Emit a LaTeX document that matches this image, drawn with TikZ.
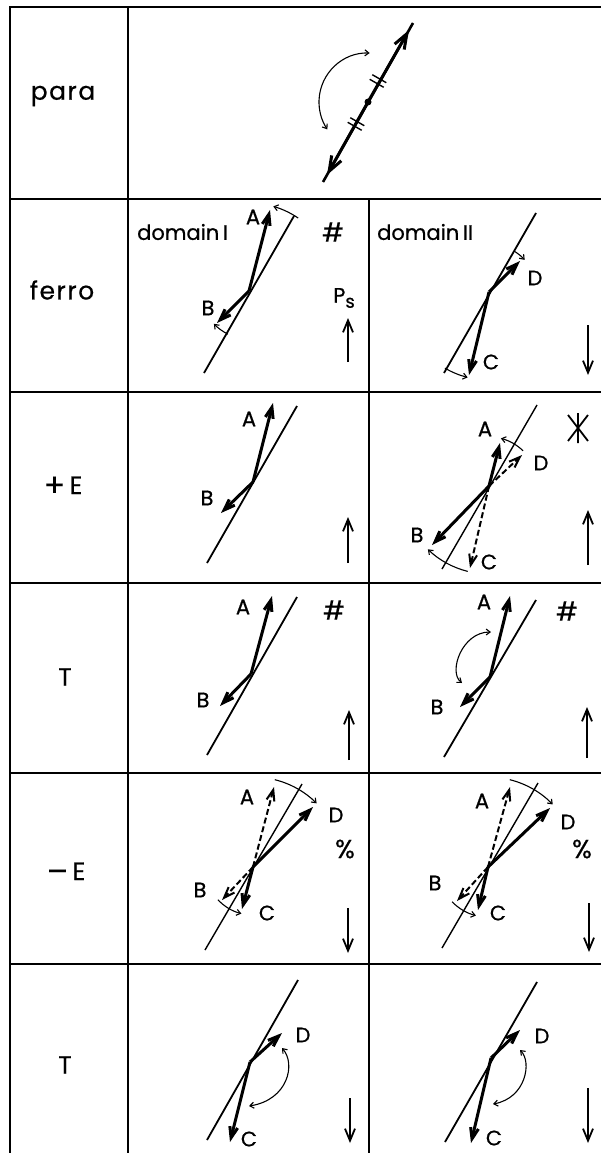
\documentclass[tikz,border=0pt]{standalone}
\usepackage{fontspec}
\setmainfont{Poppins}[FakeBold=0.6]
\usetikzlibrary{arrows.meta,calc}

\newcommand{\rowfont}{\fontsize{25}{28}\selectfont\addfontfeature{LetterSpace=6}}
\newcommand{\labfont}{\fontsize{21}{24}\selectfont}
\newcommand{\symfont}{\fontsize{26}{28}\selectfont}
\newcommand{\bigsign}[1]{\raisebox{-2.5pt}{\fontsize{32}{32}\selectfont\addfontfeature{FakeBold=0.2}#1}}

\begin{document}
\begin{tikzpicture}[x=1pt,y=-1pt,
  grid/.style={line width=1.6pt},
  axis/.style={line width=1.8pt},
  vec/.style={line width=3pt,-{Straight Barb[length=11pt,width=8pt]}},
  dvec/.style={line width=2pt,dash pattern=on 6pt off 3pt,-{Straight Barb[length=11pt,width=8pt]}},
  turn/.style={line width=1.1pt,-{Straight Barb[length=4pt,width=6pt]}},
  turns/.style={line width=1.1pt,{Straight Barb[length=4pt,width=6pt]}-{Straight Barb[length=4pt,width=6pt]}},
  field/.style={line width=1.8pt,-{Straight Barb[length=12pt,width=10pt]}},
  row/.style={font=\rowfont},
  lab/.style={font=\labfont,inner sep=0pt},
  sym/.style={font=\symfont,inner sep=0pt}]
\useasboundingbox (0,0) rectangle (601,1153);

% table
\draw[grid] (10,1153) -- (10,7) -- (601,7);
\draw[grid] (128,7) -- (128,1153);
\draw[grid] (369,199) -- (369,1153);
\foreach \y in {199,392,583,773,964} \draw[grid] (10,\y) -- (601,\y);

\node[row] (lpara) at (63,96) {para};
\node[row] (lferro) at (62,290) {ferro};
\node[row,anchor=base] (lpe) at (63,494) {\bigsign{+}\,E};
\node[row] (lt1) at (65,677) {T};
\node[row,anchor=base] (lme) at (66,880) {\bigsign{–}\,E};
\node[row] (lt2) at (65,1065) {T};

% para
\coordinate (o) at (368,102);
\coordinate (o1) at (323,182); \coordinate (o2) at (413,23);
\coordinate (oa) at (409,30); \coordinate (ob) at (327,175);
\draw[axis,line width=2.6pt] (o1) -- (o2);
\draw[vec,-{Straight Barb[length=15pt,width=11pt]}] (o) -- (oa);
\draw[vec,-{Straight Barb[length=15pt,width=11pt]}] (o) -- (ob);
\fill (o) circle (3.5);
\coordinate (t1) at (378,81); \coordinate (t2) at (356,124);
\foreach \t in {t1,t2} \foreach \s in {-1,1}
  \draw[line width=1.4pt] ($(\t)+(\s*1.3,-\s*2.3)+(-7,-4)$) -- ($(\t)+(\s*1.3,-\s*2.3)+(7,4)$);
\draw[turns] ($(o)+(-88:49)$) arc[start angle=-88,end angle=-214,radius=49];

% ferro, domain I
\node[lab,anchor=west] (dom1) at (137,232) {domain\,\textrm{I}};
\coordinate (f1) at (249,291);
\coordinate (f1s) at (204,373); \coordinate (f1e) at (294,216);
\coordinate (f1A) at (270,210); \coordinate (f1B) at (217,323);
\draw[axis] (f1s) -- (f1e);
\draw[vec] (f1) -- (f1A); \draw[vec] (f1) -- (f1B);
\draw[turn] ($(f1)+(-56:88)$) arc[start angle=-56,end angle=-74,radius=88];
\draw[turn] ($(f1)+(116:48)$) arc[start angle=116,end angle=137,radius=48];
\node[lab] (f1a) at (253,217) {A};
\node[lab] (f1b) at (208,308) {B};
\node[sym] (f1h) at (333,232) {\#};
\node[lab] (ps) at (344,298) {P\raisebox{-5pt}{\fontsize{18}{20}\selectfont s}};
\coordinate (f1p) at (348,362); \coordinate (f1q) at (348,318);
\draw[field] (f1p) -- (f1q);

% ferro, domain II
\node[lab,anchor=west] (dom2) at (377,232) {domain\,\textrm{II}};
\coordinate (f2) at (489,292);
\coordinate (f2s) at (444,373); \coordinate (f2e) at (536,213);
\coordinate (f2D) at (520,261); \coordinate (f2C) at (469,375);
\draw[axis] (f2s) -- (f2e);
\draw[vec] (f2) -- (f2D); \draw[vec] (f2) -- (f2C);
\draw[turn] ($(f2)+(-58:48)$) arc[start angle=-58,end angle=-42,radius=48];
\draw[turn] ($(f2)+(120:88)$) arc[start angle=120,end angle=104,radius=88];
\node[lab] (f2d) at (535,278) {D};
\node[lab] (f2c) at (491,362) {C};
\coordinate (f2p) at (588,325); \coordinate (f2q) at (588,375);
\draw[field] (f2p) -- (f2q);

% +E, domain I
\coordinate (p1) at (253,482);
\coordinate (p1s) at (207,563); \coordinate (p1e) at (297,406);
\coordinate (p1A) at (273,403); \coordinate (p1B) at (221,513);
\draw[axis] (p1s) -- (p1e);
\draw[vec] (p1) -- (p1A); \draw[vec] (p1) -- (p1B);
\node[lab] (p1a) at (249,419) {A};
\node[lab] (p1b) at (207,498) {B};
\coordinate (p1p) at (348,563); \coordinate (p1q) at (348,517);
\draw[field] (p1p) -- (p1q);

% +E, domain II
\coordinate (p2) at (489,486);
\coordinate (p2s) at (442,569); \coordinate (p2e) at (537,405);
\coordinate (p2A) at (500,443); \coordinate (p2D) at (522,455);
\coordinate (p2B) at (432,545); \coordinate (p2C) at (470,568);
\draw[axis,line width=1.4pt] (p2s) -- (p2e);
\draw[dvec] (p2) -- (p2D); \draw[dvec] (p2) -- (p2C);
\draw[vec] (p2) -- (p2A); \draw[vec] (p2) -- (p2B);
\draw[turn] ($(p2)+(-46:49)$) arc[start angle=-46,end angle=-76,radius=49];
\draw[turn] ($(p2)+(104:88)$) arc[start angle=104,end angle=134,radius=88];
\node[lab] (p2a) at (485,429) {A};
\node[lab] (p2d) at (541,463) {D};
\node[lab] (p2b) at (417,535) {B};
\node[lab] (p2c) at (489,562) {C};
\draw[line width=1.8pt] (578,413) -- (578,443) (568,415) -- (588,441) (588,415) -- (568,441);
\coordinate (p2p) at (588,565); \coordinate (p2q) at (588,510);
\draw[field] (p2p) -- (p2q);

% T, domain I
\coordinate (s1) at (251,674);
\coordinate (s1s) at (207,755); \coordinate (s1e) at (297,597);
\coordinate (s1A) at (272,596); \coordinate (s1B) at (220,706);
\draw[axis] (s1s) -- (s1e);
\draw[vec] (s1) -- (s1A); \draw[vec] (s1) -- (s1B);
\node[lab] (s1a) at (243,607) {A};
\node[lab] (s1b) at (203,700) {B};
\node[sym] (s1h) at (334,610) {\#};
\coordinate (s1p) at (349,760); \coordinate (s1q) at (349,710);
\draw[field] (s1p) -- (s1q);

% T, domain II
\coordinate (s2) at (490,677);
\coordinate (s2s) at (444,757); \coordinate (s2e) at (536,600);
\coordinate (s2A) at (510,596); \coordinate (s2B) at (460,707);
\draw[axis] (s2s) -- (s2e);
\draw[vec] (s2) -- (s2A); \draw[vec] (s2) -- (s2B);
\draw[turns] (491,632) .. controls (462,632) and (448,672) .. (462,683);
\node[lab] (s2a) at (484,602) {A};
\node[lab] (s2b) at (437,707) {B};
\node[sym] (s2h) at (567,611) {\#};
\coordinate (s2p) at (587,758); \coordinate (s2q) at (587,707);
\draw[field] (s2p) -- (s2q);

% -E, domain I
\coordinate (m1) at (253,867);
\coordinate (m1s) at (205,950); \coordinate (m1e) at (302,784);
\coordinate (m1A) at (274,787); \coordinate (m1D) at (313,807);
\coordinate (m1B) at (222,900); \coordinate (m1C) at (242,909);
\draw[axis,line width=1.4pt] (m1s) -- (m1e);
\draw[dvec] (m1) -- (m1A); \draw[dvec] (m1) -- (m1B);
\draw[vec] (m1) -- (m1D); \draw[vec] (m1) -- (m1C);
\draw[turn] ($(m1)+(-76:90)$) arc[start angle=-76,end angle=-45,radius=90];
\draw[turn] ($(m1)+(137:48)$) arc[start angle=137,end angle=104,radius=48];
\node[lab] (m1a) at (247,797) {A};
\node[lab] (m1d) at (336,815) {D};
\node[lab] (m1b) at (200,890) {B};
\node[lab] (m1c) at (267,913) {C};
\node[sym] (m1h) at (345,849) {\%};
\coordinate (m1p) at (348,908); \coordinate (m1q) at (348,953);
\draw[field] (m1p) -- (m1q);

% -E, domain II
\coordinate (m2) at (488,867);
\coordinate (m2s) at (442,948); \coordinate (m2e) at (538,783);
\coordinate (m2A) at (510,787); \coordinate (m2D) at (550,808);
\coordinate (m2B) at (457,901); \coordinate (m2C) at (478,910);
\draw[axis,line width=1.4pt] (m2s) -- (m2e);
\draw[dvec] (m2) -- (m2A); \draw[dvec] (m2) -- (m2B);
\draw[vec] (m2) -- (m2D); \draw[vec] (m2) -- (m2C);
\draw[turn] ($(m2)+(-76:90)$) arc[start angle=-76,end angle=-44,radius=90];
\draw[turn] ($(m2)+(136:50)$) arc[start angle=136,end angle=104,radius=50];
\node[lab] (m2a) at (482,801) {A};
\node[lab] (m2d) at (568,822) {D};
\node[lab] (m2b) at (435,883) {B};
\node[lab] (m2c) at (498,913) {C};
\node[sym] (m2h) at (582,849) {\%};
\coordinate (m2p) at (589,903); \coordinate (m2q) at (589,952);
\draw[field] (m2p) -- (m2q);

% T, domain I (after -E)
\coordinate (r1) at (250,1062);
\coordinate (r1s) at (207,1140); \coordinate (r1e) at (298,980);
\coordinate (r1D) at (282,1033); \coordinate (r1C) at (230,1142);
\draw[axis] (r1s) -- (r1e);
\draw[vec] (r1) -- (r1D); \draw[vec] (r1) -- (r1C);
\draw[turns] (282,1048) .. controls (296,1064) and (288,1100) .. (249,1106);
\node[lab] (r1d) at (303,1035) {D};
\node[lab] (r1c) at (249,1139) {C};
\coordinate (r1p) at (350,1098); \coordinate (r1q) at (350,1143);
\draw[field] (r1p) -- (r1q);

% T, domain II (after -E)
\coordinate (r2) at (491,1058);
\coordinate (r2s) at (445,1142); \coordinate (r2e) at (537,982);
\coordinate (r2D) at (520,1030); \coordinate (r2C) at (471,1143);
\draw[axis] (r2s) -- (r2e);
\draw[vec] (r2) -- (r2D); \draw[vec] (r2) -- (r2C);
\draw[turns] (520,1050) .. controls (532,1062) and (526,1098) .. (493,1104);
\node[lab] (r2d) at (542,1036) {D};
\node[lab] (r2c) at (494,1138) {C};
\coordinate (r2p) at (588,1088); \coordinate (r2q) at (588,1143);
\draw[field] (r2p) -- (r2q);
\end{tikzpicture}
\end{document}
